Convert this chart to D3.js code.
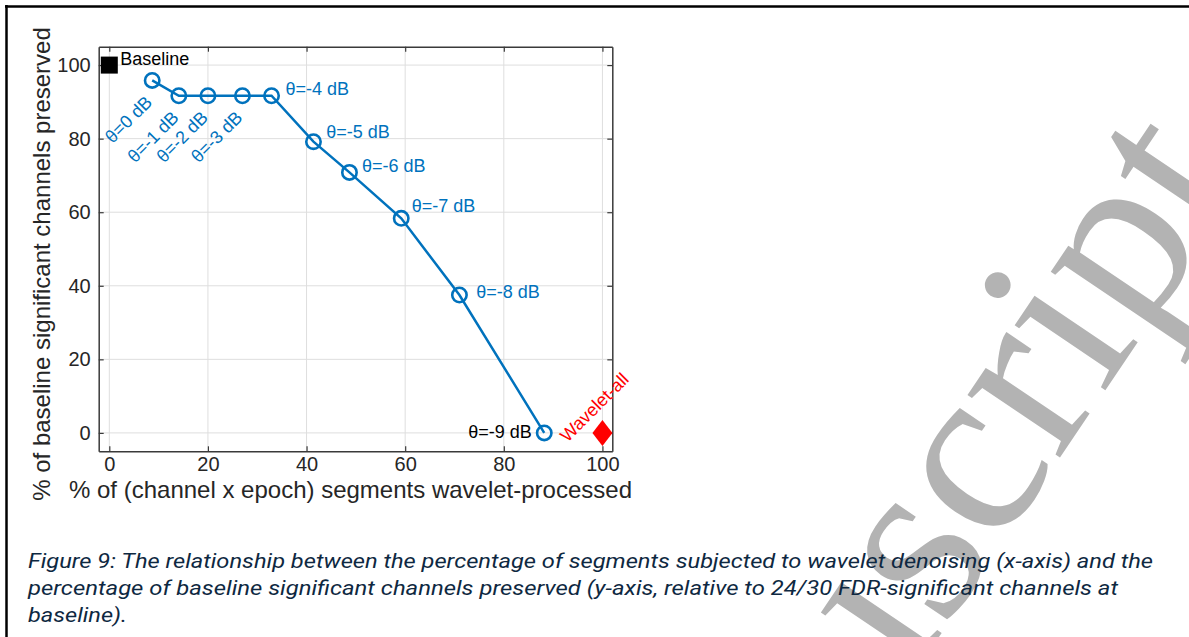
<!DOCTYPE html>
<html>
<head>
<meta charset="utf-8">
<script src="https://cdn.jsdelivr.net/npm/d3@7"></script>
<style>
  html, body { margin: 0; padding: 0; background: #ffffff; }
  svg { display: block; }
</style>
</head>
<body>
<svg id="fig" width="1189" height="637"></svg>
<script>
// Wavelet threshold sweep: share of segments processed vs. share of baseline channels kept
const thresholdsDb   = [0, -1, -2, -3, -4, -5, -6, -7, -8, -9];
const pctProcessed   = [8.7, 14.1, 20.0, 27.0, 32.9, 41.4, 48.7, 59.2, 71.0, 88.2];
const pctPreserved   = [95.83, 91.67, 91.67, 91.67, 91.67, 79.17, 70.83, 58.33, 37.5, 0];
const baselinePoint  = [0, 100];
const waveletAllPoint = [100, 0];
const xTicks = [0, 20, 40, 60, 80, 100];
const yTicks = [0, 20, 40, 60, 80, 100];
const xLabel = "% of (channel x epoch) segments wavelet-processed";
const yLabel = "% of baseline significant channels preserved";
const captionLines = [
  "Figure 9: The relationship between the percentage of segments subjected to wavelet denoising (x-axis) and the",
  "percentage of baseline significant channels preserved (y-axis, relative to 24/30 FDR-significant channels at",
  "baseline)."
];

// per-label pixel nudges for the labels placed to the right of θ=-4…-8 dB
const rightLabelNudge = [[14, -0.5], [12.7, -3.4], [12.6, -0.6], [10.4, -6.6], [16.7, 3.3]];

const BLUE = "#0072BD", RED = "#FF0000", AXIS = "#3a3a3a", GRID = "#dedede";
const FONT = "'Liberation Sans', Arial, Helvetica, sans-serif";

const svg = d3.select("#fig");

// page frame edges
svg.append("line").attr("x1", 5).attr("y1", 6.5).attr("x2", 1189).attr("y2", 6.5)
  .attr("stroke", "#000").attr("stroke-width", 2.5);
svg.append("line").attr("x1", 6.5).attr("y1", 5).attr("x2", 6.5).attr("y2", 637)
  .attr("stroke", "#000").attr("stroke-width", 2.5);

// diagonal watermark (positioned from the dot of the "i")
const wmSize = 243;
svg.append("text")
  .attr("transform", "translate(999.3,283.3) rotate(-56)")
  .attr("x", -3.641 * wmSize).attr("y", 0.608 * wmSize)
  .attr("font-family", "'Liberation Serif', 'Times New Roman', serif")
  .attr("font-size", wmSize)
  .attr("fill", "#b3b3b3")
  .text("Manuscript");

// plot area
const L = 98.7, R = 612.3, T = 46.7, B = 451.3;
const x = d3.scaleLinear().domain([-2.15, 102]).range([L, R]);
const y = d3.scaleLinear().domain([-5, 105]).range([B, T]);

const g = svg.append("g");

// grid
g.append("g").selectAll("line").data(xTicks).join("line")
  .attr("x1", d => x(d)).attr("x2", d => x(d)).attr("y1", T).attr("y2", B)
  .attr("stroke", GRID).attr("stroke-width", 1);
g.append("g").selectAll("line").data(yTicks).join("line")
  .attr("y1", d => y(d)).attr("y2", d => y(d)).attr("x1", L).attr("x2", R)
  .attr("stroke", GRID).attr("stroke-width", 1);

function styleAxis(sel) {
  sel.select(".domain").attr("stroke", AXIS).attr("stroke-width", 1.5);
  sel.selectAll(".tick line").attr("stroke", AXIS).attr("stroke-width", 1.2);
  sel.selectAll(".tick text").attr("fill", "#262626").attr("font-size", 20).attr("font-family", FONT);
}

g.append("g").attr("transform", `translate(0,${B})`)
  .call(d3.axisBottom(x).tickValues(xTicks).tickSizeInner(-5).tickSizeOuter(0).tickPadding(5.5))
  .call(styleAxis);
g.append("g").attr("transform", `translate(0,${T})`)
  .call(d3.axisTop(x).tickValues(xTicks).tickSizeInner(-5).tickSizeOuter(0).tickFormat(""))
  .call(styleAxis);
g.append("g").attr("transform", `translate(${L},0)`)
  .call(d3.axisLeft(y).tickValues(yTicks).tickSizeInner(-5).tickSizeOuter(0).tickPadding(8))
  .call(styleAxis);
g.append("g").attr("transform", `translate(${R},0)`)
  .call(d3.axisRight(y).tickValues(yTicks).tickSizeInner(-5).tickSizeOuter(0).tickFormat(""))
  .call(styleAxis);

// axis titles
svg.append("text")
  .attr("x", 350.5).attr("y", 498)
  .attr("text-anchor", "middle")
  .attr("font-family", FONT).attr("font-size", 24).attr("fill", "#262626")
  .text(xLabel);
svg.append("text")
  .attr("transform", "translate(50,264) rotate(-90)")
  .attr("text-anchor", "middle")
  .attr("font-family", FONT).attr("font-size", 24).attr("fill", "#262626")
  .text(yLabel);

// sweep line + open circle markers
const pts = thresholdsDb.map((t, i) => ({ t, px: pctProcessed[i], py: pctPreserved[i] }));
g.append("path")
  .datum(pts)
  .attr("fill", "none").attr("stroke", BLUE).attr("stroke-width", 2.5)
  .attr("d", d3.line().x(d => x(d.px)).y(d => y(d.py)));
g.append("g").selectAll("circle").data(pts).join("circle")
  .attr("cx", d => x(d.px)).attr("cy", d => y(d.py)).attr("r", 7.2)
  .attr("fill", "none").attr("stroke", BLUE).attr("stroke-width", 2.6);

// threshold labels
const lab = d => `θ=${d.t} dB`;
g.append("g").selectAll("text").data(pts.filter(d => d.t >= -3)).join("text")
  .attr("transform", d => `translate(${x(d.px) + 1},${y(d.py) + 23}) rotate(-45)`)
  .attr("text-anchor", "end")
  .attr("font-family", FONT).attr("font-size", 18).attr("fill", BLUE)
  .text(lab);
g.append("g").selectAll("text").data(pts.filter(d => d.t <= -4 && d.t >= -8)).join("text")
  .attr("x", (d, i) => x(d.px) + rightLabelNudge[i][0])
  .attr("y", (d, i) => y(d.py) + rightLabelNudge[i][1])
  .attr("font-family", FONT).attr("font-size", 18).attr("fill", BLUE)
  .text(lab);
g.append("g").selectAll("text").data(pts.filter(d => d.t === -9)).join("text")
  .attr("x", d => x(d.px) - 12.5).attr("y", d => y(d.py) + 5.5)
  .attr("text-anchor", "end")
  .attr("font-family", FONT).attr("font-size", 18).attr("fill", "#000")
  .text(lab);

// baseline reference (filled square)
const bx = x(baselinePoint[0]), by = y(baselinePoint[1]);
g.append("rect").attr("x", bx - 8.5).attr("y", by - 8.5).attr("width", 17).attr("height", 17)
  .attr("fill", "#000");
g.append("text").attr("x", bx + 11).attr("y", by)
  .attr("font-family", FONT).attr("font-size", 18).attr("fill", "#000")
  .text("Baseline");

// wavelet applied to every segment (filled diamond)
const wx = x(waveletAllPoint[0]), wy = y(waveletAllPoint[1]);
g.append("path")
  .attr("d", `M${wx},${wy - 13}L${wx + 10},${wy}L${wx},${wy + 13}L${wx - 10},${wy}Z`)
  .attr("fill", RED);
g.append("text")
  .attr("transform", `translate(${wx - 35},${wy + 10}) rotate(-45)`)
  .attr("font-family", FONT).attr("font-size", 18).attr("fill", RED)
  .text("Wavelet-all");

// caption
const capWidths = [1125, 1090, 99];
const capBase = [567.5, 595, 622];
svg.append("g").selectAll("text").data(captionLines).join("text")
  .attr("x", 28).attr("y", (d, i) => capBase[i])
  .attr("font-family", "Roboto, 'Noto Sans', sans-serif")
  .attr("font-style", "italic")
  .attr("font-size", 19.5)
  .attr("fill", "#0E2841")
  .attr("textLength", (d, i) => capWidths[i])
  .attr("lengthAdjust", "spacingAndGlyphs")
  .text(d => d);
</script>
</body>
</html>
